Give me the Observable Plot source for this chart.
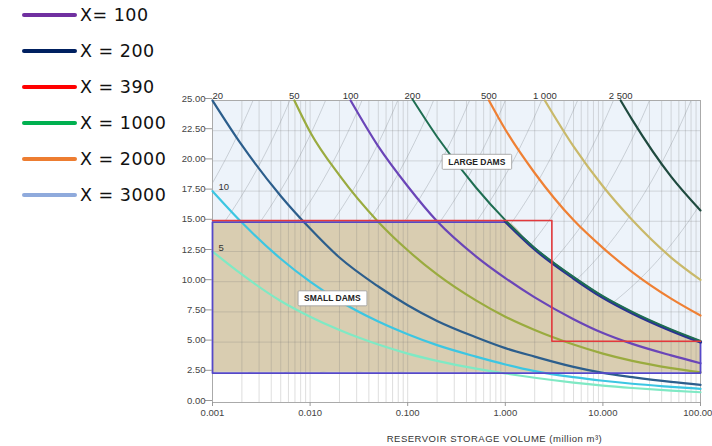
<!DOCTYPE html>
<html>
<head>
<meta charset="utf-8">
<script src="https://cdn.jsdelivr.net/npm/d3@7"></script>
<script src="https://cdn.jsdelivr.net/npm/@observablehq/plot@0.6"></script>
<style>
  html, body { margin: 0; padding: 0; background: #fff; }
  #wrap { position: relative; width: 712px; height: 446px; overflow: hidden; }
  #chart { position: absolute; left: 0; top: 0; }
  #legend { position: absolute; left: 0; top: 0; font-family: "DejaVu Sans", Verdana, sans-serif; font-size: 17.5px; letter-spacing: 0.5px; color: #111; }
  .row { position: absolute; left: 0; height: 20px; white-space: nowrap; }
  .sw { position: absolute; left: 22px; width: 55px; height: 4px; border-radius: 2px; top: 8px; }
  .lb { position: absolute; left: 80px; top: 0; line-height: 20px; }
</style>
</head>
<body>
<div id="wrap">
  <div id="chart"></div>
  <div id="legend"></div>
</div>
<script>
// ---------------- data ----------------
const legendLabels = ["X= 100", "X = 200", "X = 390", "X = 1000", "X = 2000", "X = 3000"];
const legendColors = ["#7030a0", "#002060", "#ff0000", "#00b050", "#ed7d31", "#8faadc"];

// curves of constant H²·√V: [V (million m³), H (m)]
const c5    = [[0.001,12.5],[0.002,10.6],[0.005,8.4],[0.01,7.1],[0.02,6.0],[0.05,4.8],[0.1,4.05],[0.2,3.45],[0.5,2.8],[1,2.4],[2,2.05],[5,1.65],[10,1.4],[20,1.2],[50,0.98],[100,0.85]];
const c10   = [[0.001,17.5],[0.002,14.9],[0.005,11.9],[0.01,10.0],[0.02,8.4],[0.05,6.7],[0.1,5.65],[0.2,4.75],[0.5,3.8],[1,3.15],[2,2.6],[5,2.1],[10,1.8],[20,1.55],[50,1.3],[100,1.13]];
const c20   = [[0.001,25],[0.002,21.3],[0.005,17.1],[0.01,14.4],[0.02,12.0],[0.05,9.6],[0.1,8.05],[0.2,6.75],[0.5,5.4],[1,4.5],[2,3.8],[5,2.95],[10,2.45],[20,2.1],[50,1.7],[100,1.46]];
const c50   = [[0.0069,25],[0.01,22.4],[0.02,18.8],[0.05,14.95],[0.1,12.6],[0.2,10.6],[0.5,8.45],[1,7.1],[2,6.0],[5,4.8],[10,4.05],[20,3.45],[50,2.85],[100,2.5]];
const c100  = [[0.026,25],[0.05,21.2],[0.1,17.9],[0.2,15.0],[0.5,12.1],[1,10.3],[2,8.7],[5,6.9],[10,5.75],[20,4.85],[50,3.9],[100,3.25]];
const c200  = [[0.112,25],[0.2,21.9],[0.5,17.7],[1,15.0],[2,12.7],[5,10.3],[10,8.7],[20,7.4],[50,5.95],[100,5.0]];
const c500  = [[0.68,25],[1,22.6],[2,19.0],[5,15.1],[10,12.8],[20,10.8],[50,8.6],[100,7.2]];
const c1000 = [[2.54,25],[5,21.2],[10,17.9],[20,15.1],[50,12.0],[100,10.15]];
const c2500 = [[15.2,25],[20,23.4],[50,18.7],[100,15.9]];

const curveData   = [c5, c10, c20, c50, c100, c200, c500, c1000, c2500];
const curveLabels = ["5", "10", "20", "50", "100", "200", "500", "1 000", "2 500"];
const curveColors = ["#7fe9c4", "#3cc6e2", "#2c5e8c", "#9aab3f", "#6a45b8", "#1f6e52", "#ef8034", "#c9b96a", "#1f4a3f"];

// ICOLD large-dam limit (red): H = 15 m, or H ≥ 5 m with V > 3 million m³
const icoldLimit = [[0.001,15],[3,15],[3,5.0],[100,5.0]];
// small-dam zone limits
const smallMinH = 2.5, smallMaxH = 15;

// diagonal guide lines of the nomogram (V at the top edge, H = 25 m)
const guideTopV = [0.0026, 0.0062, 0.0144, 0.034, 0.079, 0.184, 0.43, 1.0, 2.35, 5.5, 12.8, 30, 80, 350];

const zoneLabels = [
  {text: "LARGE DAMS", V: 0.51, H: 19.9},
  {text: "SMALL DAMS", V: 0.0169, H: 8.6}
];

const xTicks = [0.001, 0.01, 0.1, 1, 10, 100];
const yTicks = [0, 2.5, 5, 7.5, 10, 12.5, 15, 17.5, 20, 22.5, 25];
const xLabel = "RESERVOIR STORAGE VOLUME (million m³)";

// ---------------- derived tables ----------------
const xDomain = [xTicks[0], xTicks[xTicks.length - 1]];
const yDomain = [yTicks[0], yTicks[yTicks.length - 1]];
const minorX = [];
for (let k = 0; k < xTicks.length - 1; k++) for (let n = 1; n < 10; n++) minorX.push(n * xTicks[k]);
minorX.push(xDomain[1]);

const guideRows = [];
guideTopV.forEach((v25, i) => {
  for (let h = yDomain[1]; h >= smallMinH - 1e-9; h -= 0.25) {
    guideRows.push({V: v25 * Math.pow(h / yDomain[1], 3), H: h, g: i});
  }
});

const boundary = c200.filter(d => d[0] >= 1);
const smallTop = [[xDomain[0], smallMaxH], ...boundary];
const smallRect = [[boundary[0][0], smallMaxH], [xDomain[0], smallMaxH], [xDomain[0], smallMinH], [xDomain[1], smallMinH], [xDomain[1], boundary[boundary.length-1][1]]];

const labelRows = curveData.map((pts, i) => ({V: pts[0][0], H: pts[0][1], text: curveLabels[i], i}));

const X = d => d[0], Y = d => d[1];
const font = "'Liberation Sans', Arial, Helvetica, sans-serif";

const plot = Plot.plot({
  width: 712,
  height: 446,
  marginLeft: 212,
  marginRight: 12,
  marginTop: 100,
  marginBottom: 44,
  style: {fontFamily: font, background: "transparent", overflow: "visible"},
  x: {type: "log", domain: xDomain},
  y: {domain: yDomain},
  marks: [
    Plot.rect([0], {x1: xDomain[0], x2: xDomain[1], y1: smallMinH, y2: yDomain[1], fill: "#edf3fa"}),
    Plot.line(guideRows, {x: "V", y: "H", z: "g", stroke: "#9aa0a8", strokeWidth: 0.6, strokeOpacity: 0.75, clip: true}),
    Plot.areaY(smallTop, {x: X, y1: smallMinH, y2: Y, fill: "#d9cdb1", curve: "monotone-x"}),
    Plot.ruleX(minorX, {y1: yDomain[0], y2: yDomain[1], stroke: "#777", strokeOpacity: 0.3, strokeWidth: 0.8}),
    Plot.ruleY(yTicks.slice(1, -1), {stroke: "#777", strokeOpacity: 0.3, strokeWidth: 0.8}),
    Plot.frame({stroke: "#aaa", strokeWidth: 1}),
    ...curveData.map((pts, i) => i === 5 ? null : Plot.line(pts, {x: X, y: Y, stroke: curveColors[i], strokeWidth: 2.2, curve: "monotone-x"})),
    Plot.line(smallRect, {x: X, y: Y, stroke: "#5548c8", strokeWidth: 1.8, dy: 0.8}),
    Plot.line(boundary, {x: X, y: Y, stroke: "#2a3192", strokeWidth: 3.2, curve: "monotone-x"}),
    Plot.line(c200, {x: X, y: Y, stroke: curveColors[5], strokeWidth: 2, curve: "monotone-x", dy: -1.2}),
    Plot.line(icoldLimit, {x: X, y: Y, stroke: "#e3393c", strokeWidth: 1.6, dy: -0.8}),
    // curve labels
    Plot.text(labelRows.filter(d => d.i < 2), {x: "V", y: "H", text: "text", textAnchor: "start", dx: 6, dy: -4, fontSize: 9.5, fill: "#333"}),
    Plot.text(labelRows.filter(d => d.i === 2), {x: "V", y: "H", text: "text", textAnchor: "start", dx: 0, dy: -5, fontSize: 9.5, fill: "#333"}),
    Plot.text(labelRows.filter(d => d.i > 2), {x: "V", y: "H", text: "text", textAnchor: "middle", dy: -5, fontSize: 9.5, fill: "#333"}),
    Plot.text(zoneLabels, {x: "V", y: "H", text: "text", fontSize: 8.5, fontWeight: "bold", fill: "#222"}),
    Plot.axisX({ticks: xTicks, tickFormat: d => d.toFixed(3), tickSize: 4, tickPadding: 3, stroke: "#999", fill: "#444", fontSize: 9.5, label: null}),
    Plot.axisY({ticks: yTicks, tickFormat: d3.format(".2f"), tickSize: 7, tickPadding: 0, stroke: "#999", fill: "#444", fontSize: 9.5, label: null, dy: -2}),
    Plot.text([xLabel], {text: d => d, frameAnchor: "bottom", dx: 38, dy: 39, fontSize: 9.5, fill: "#333"})
  ].filter(Boolean)
});

document.getElementById("chart").appendChild(plot);

// x label letter spacing
plot.querySelectorAll("text").forEach(t => {
  if (t.textContent === xLabel) t.setAttribute("letter-spacing", "0.5");
});

// white boxes behind the zone labels
const zoneTexts = zoneLabels.map(d => d.text);
plot.querySelectorAll("text").forEach(t => {
  if (!zoneTexts.includes(t.textContent)) return;
  const b = t.getBBox();
  const r = document.createElementNS("http://www.w3.org/2000/svg", "rect");
  r.setAttribute("x", b.x - 6);
  r.setAttribute("y", b.y - 2.5);
  r.setAttribute("width", b.width + 12);
  r.setAttribute("height", b.height + 5);
  r.setAttribute("fill", "#fff");
  r.setAttribute("stroke", "#999");
  r.setAttribute("stroke-width", "0.8");
  r.setAttribute("rx", "1");
  const tr = t.getAttribute("transform");
  if (tr) r.setAttribute("transform", tr);
  t.parentNode.insertBefore(r, t);
});

// legend
const lg = document.getElementById("legend");
legendLabels.forEach((txt, i) => {
  const row = document.createElement("div");
  row.className = "row";
  row.style.top = (5 + i * 36) + "px";
  const sw = document.createElement("div");
  sw.className = "sw";
  sw.style.background = legendColors[i];
  const lb = document.createElement("div");
  lb.className = "lb";
  lb.textContent = txt;
  row.appendChild(sw);
  row.appendChild(lb);
  lg.appendChild(row);
});
</script>
</body>
</html>
